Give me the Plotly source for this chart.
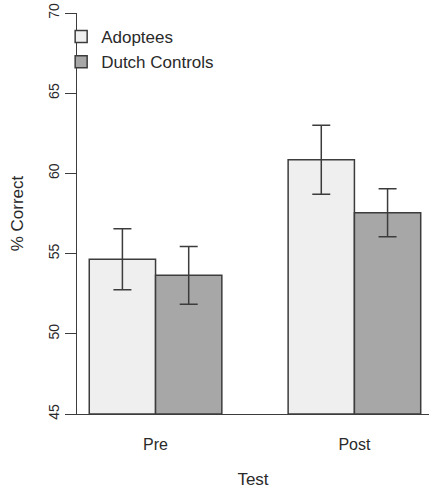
import plotly.graph_objects as go

categories = ["Pre", "Post"]
adoptees = [54.65, 60.85]
adoptees_err = [1.9, 2.15]
dutch = [53.65, 57.55]
dutch_err = [1.8, 1.5]
y_ticks = [45, 50, 55, 60, 65, 70]

FONT = "Liberation Sans, Arial, Helvetica, sans-serif"
LINE = "#3c3c3c"
TXT = "#2a2a2a"

fig = go.Figure()
fig.add_trace(go.Bar(
    name="Adoptees", x=categories, y=[v - 45 for v in adoptees], base=45,
    marker=dict(color="#efefef", line=dict(color=LINE, width=1.5)),
    error_y=dict(type="data", array=adoptees_err, color=LINE, thickness=1.5, width=9),
))
fig.add_trace(go.Bar(
    name="Dutch Controls", x=categories, y=[v - 45 for v in dutch], base=45,
    marker=dict(color="#a7a7a7", line=dict(color=LINE, width=1.5)),
    error_y=dict(type="data", array=dutch_err, color=LINE, thickness=1.5, width=9),
))

fig.update_layout(
    width=429, height=489,
    margin=dict(l=77, r=0, t=13, b=75, autoexpand=False),
    paper_bgcolor="white", plot_bgcolor="white",
    barmode="group", bargap=1/3, bargroupgap=0,
    font=dict(family=FONT, color=TXT),
    showlegend=True,
    legend=dict(x=-0.045, y=0.985, xanchor="left", yanchor="top",
                font=dict(size=17, color=TXT), bgcolor="rgba(0,0,0,0)",
                itemwidth=30, tracegroupgap=0),
    xaxis=dict(
        type="category", range=[-0.395, 1.375], automargin=False,
        showline=True, linecolor=LINE, linewidth=1.3,
        ticks="", showgrid=False, zeroline=False,
        tickfont=dict(size=16, color=TXT), ticklabelstandoff=16,
        title=dict(text="Test", font=dict(size=17, color=TXT), standoff=20),
    ),
    yaxis=dict(
        range=[45, 70], tickvals=y_ticks, automargin=False,
        showline=True, linecolor=LINE, linewidth=1.3,
        ticks="outside", ticklen=11, tickwidth=1.3, tickcolor=LINE,
        tickangle=-90, tickfont=dict(size=14, color=TXT), ticklabelstandoff=0,
        showgrid=False, zeroline=False,
        title=dict(text="% Correct", font=dict(size=17, color=TXT), standoff=18),
    ),
)

# remove the default 8px page margin so the figure sits at the window's corner
fig.write_html("out.html", config={"displayModeBar": False},
               post_script="document.body.style.margin='0';")
